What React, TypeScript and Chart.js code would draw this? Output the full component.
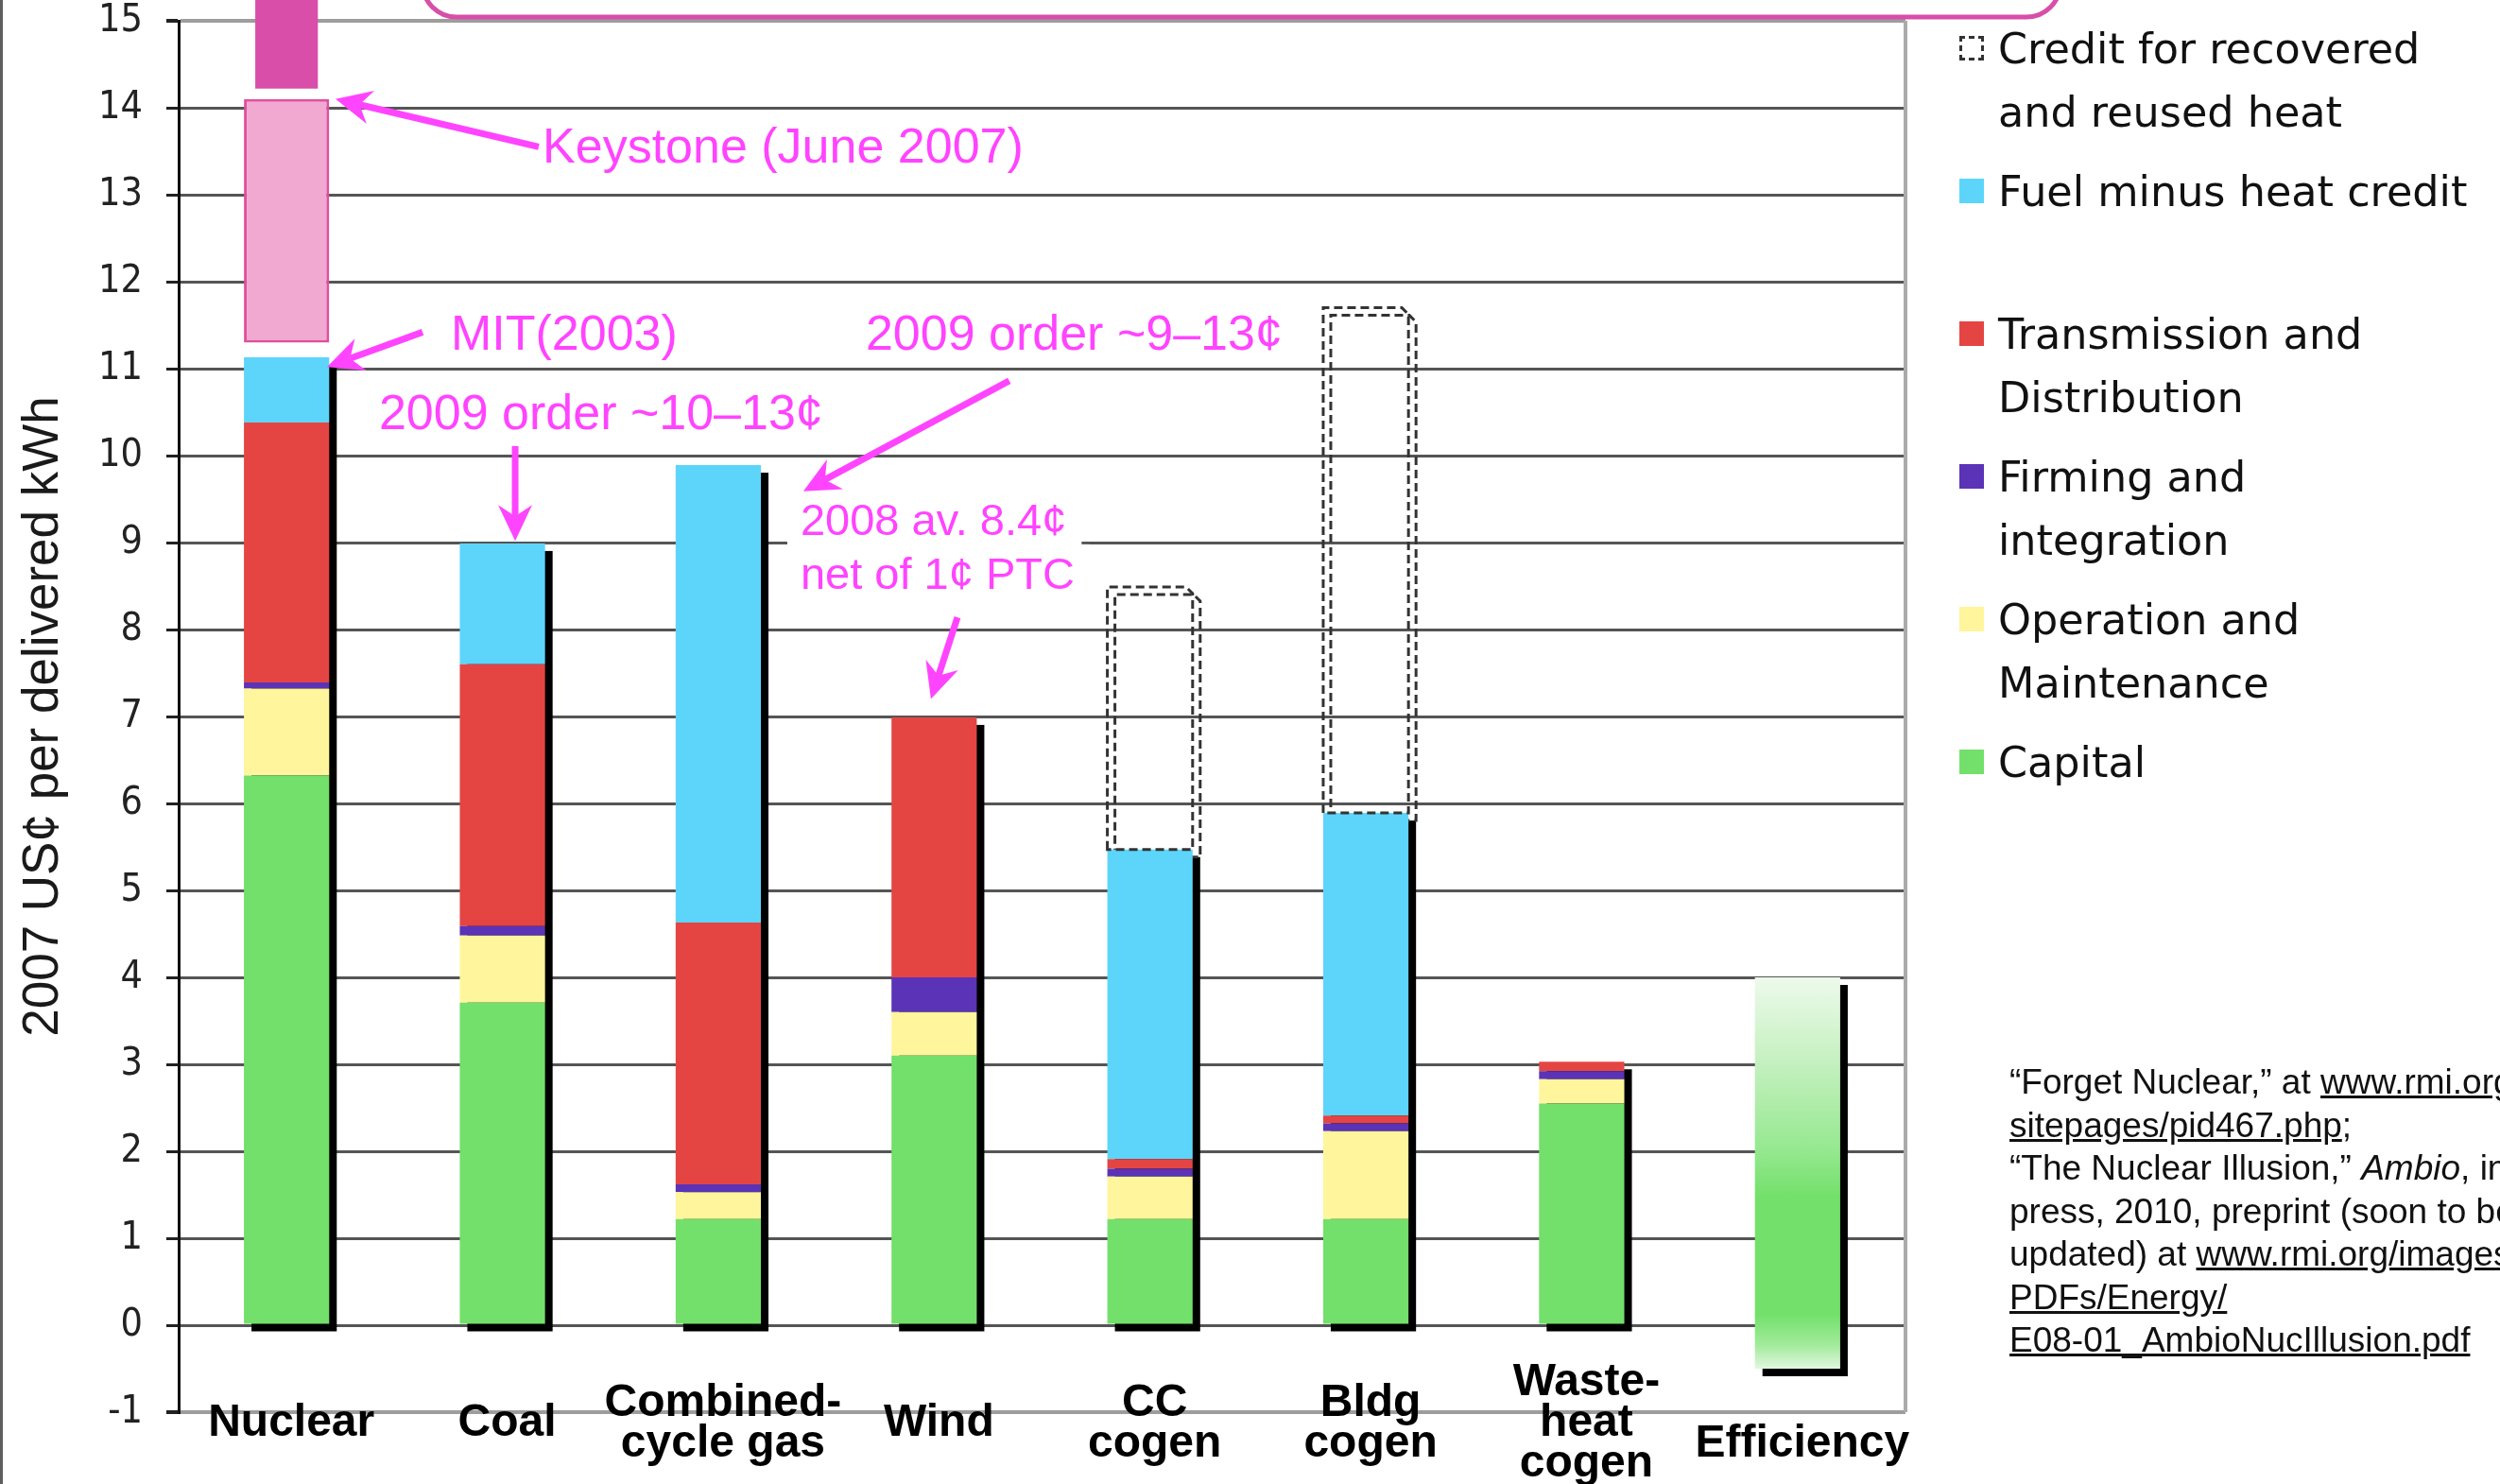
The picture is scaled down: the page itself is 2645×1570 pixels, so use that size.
import React, { useEffect, useRef } from "react";
import { Chart, registerables } from "chart.js";

Chart.register(...registerables);

// ---------- DATA ----------
const categories: string[][] = [
  ["Nuclear"],
  ["Coal"],
  ["Combined-", "cycle gas"],
  ["Wind"],
  ["CC", "cogen"],
  ["Bldg", "cogen"],
  ["Waste-", "heat", "cogen"],
  ["", "Efficiency"],
];

const capital = [6.32, 3.71, 1.22, 3.1, 1.22, 1.22, 2.55, null];
const operationMaintenance = [1.0, 0.77, 0.31, 0.5, 0.49, 1.01, 0.28, null];
const firmingIntegration = [0.07, 0.11, 0.09, 0.4, 0.09, 0.09, 0.09, null];
const transmissionDistribution = [2.99, 3.01, 3.01, 2.99, 0.11, 0.09, 0.11, null];
const fuelMinusHeatCredit = [0.75, 1.39, 5.26, null, 3.56, 3.48, null, null];
const heatCredit = [null, null, null, null, 3.02, 5.81, null, null];
const keystoneRange = [[11.3, 14.1], null, null, null, null, null, null, null];
const recentNuclearRange = [[14.22, 15.3], null, null, null, null, null, null, null];
const efficiencyRange = [null, null, null, null, null, null, null, [-0.5, 4.0]];

const yMin = -1;
const yMax = 15;
const yStep = 1;

const legendEntries = [
  { lines: ["Credit for recovered", "and reused heat"], key: "credit" },
  { lines: ["Fuel minus heat credit"], key: "fuel" },
  { lines: ["Transmission and", "Distribution"], key: "td" },
  { lines: ["Firming and", "integration"], key: "firm" },
  { lines: ["Operation and", "Maintenance"], key: "om" },
  { lines: ["Capital"], key: "capital" },
];

const annotationTexts = [
  { text: "Keystone (June 2007)", at: [1.186, 13.53], size: 52, backed: false },
  { text: "MIT(2003)", at: [0.761, 11.37], size: 52, backed: false },
  { text: "2009 order ~10–13¢", at: [0.428, 10.46], size: 52, backed: false },
  { text: "2009 order ~9–13¢", at: [2.683, 11.37], size: 52, backed: false },
  { text: "2008 av. 8.4¢", at: [2.381, 9.23], size: 47, backed: true },
  { text: "net of 1¢ PTC", at: [2.381, 8.61], size: 47, backed: true },
];

const annotationArrows = [
  { from: [1.168, 13.55], to: [0.227, 14.1] },
  { from: [0.63, 11.42], to: [0.187, 11.02] },
  { from: [1.059, 10.11], to: [1.059, 9.02] },
  { from: [3.348, 10.86], to: [2.394, 9.59] },
  { from: [3.108, 8.14], to: [2.985, 7.2] },
];

// ---------- STYLES ----------
const COLORS: Record<string, string> = {
  capital: "#72E06A",
  om: "#FFF59C",
  firm: "#5B33B6",
  td: "#E44543",
  fuel: "#5DD5FA",
  keystone: "#F1A9D1",
  keystoneBorder: "#E0509E",
  recent: "#D84EA9",
  annot: "#FF44FF",
};
const SHADOW_DX = 8;
const SHADOW_DY = 8;
const BAR_PCT = 0.395;

function chamferPath(ctx: CanvasRenderingContext2D, l: number, t: number, r: number, b: number, c: number) {
  ctx.beginPath();
  ctx.moveTo(l, b);
  ctx.lineTo(l, t);
  ctx.lineTo(r - c, t);
  ctx.lineTo(r, t + c);
  ctx.lineTo(r, b);
  ctx.closePath();
}

function elRect(el: any) {
  const p = el.getProps(["x", "y", "base", "width"], true);
  return {
    l: p.x - p.width / 2,
    r: p.x + p.width / 2,
    t: Math.min(p.y, p.base),
    b: Math.max(p.y, p.base),
  };
}

const shadowPlugin = {
  id: "barShadows",
  beforeDatasetsDraw(chart: any) {
    const ctx = chart.ctx as CanvasRenderingContext2D;
    const n = chart.data.labels.length;
    ctx.save();
    const ca = chart.chartArea;
    ctx.strokeStyle = "#ababab";
    ctx.lineWidth = 4;
    ctx.beginPath();
    ctx.moveTo(ca.right, ca.top);
    ctx.lineTo(ca.right, ca.bottom);
    ctx.stroke();

    for (let i = 0; i < n; i++) {
      let l = Infinity, r = -Infinity, t = Infinity, b = -Infinity;
      chart.data.datasets.forEach((ds: any, di: number) => {
        if (!ds.shadow || ds.data[i] == null) return;
        const el = chart.getDatasetMeta(di).data[i];
        if (!el) return;
        const q = elRect(el);
        l = Math.min(l, q.l); r = Math.max(r, q.r);
        t = Math.min(t, q.t); b = Math.max(b, q.b);
      });
      if (l < r) {
        ctx.fillStyle = "#000";
        ctx.fillRect(l + SHADOW_DX, t + SHADOW_DY, r - l, b - t);
      }
    }
    chart.data.datasets.forEach((ds: any, di: number) => {
      if (!ds.dashedCredit) return;
      chart.getDatasetMeta(di).data.forEach((el: any, i: number) => {
        if (ds.data[i] == null) return;
        const q = elRect(el);
        ctx.setLineDash([9, 5]);
        ctx.lineWidth = 3;
        ctx.strokeStyle = "#333";
        chamferPath(ctx, q.l + SHADOW_DX, q.t + SHADOW_DY, q.r + SHADOW_DX, q.b + SHADOW_DY, 7);
        ctx.stroke();
      });
    });
    ctx.restore();
  },
  afterDatasetsDraw(chart: any) {
    const ctx = chart.ctx as CanvasRenderingContext2D;
    ctx.save();
    chart.data.datasets.forEach((ds: any, di: number) => {
      if (!ds.dashedCredit) return;
      chart.getDatasetMeta(di).data.forEach((el: any, i: number) => {
        if (ds.data[i] == null) return;
        const q = elRect(el);
        ctx.setLineDash([9, 5]);
        ctx.lineWidth = 3;
        ctx.strokeStyle = "#333";
        chamferPath(ctx, q.l, q.t, q.r, q.b, 7);
        ctx.stroke();
      });
    });
    ctx.restore();
  },
};

const categoryLabelPlugin = {
  id: "categoryLabels",
  afterDraw(chart: any) {
    const ctx = chart.ctx as CanvasRenderingContext2D;
    const xs = chart.scales.x;
    const ca = chart.chartArea;
    const lh = 43;
    ctx.save();
    ctx.font = 'bold 48px "Liberation Sans", Arial, sans-serif';
    ctx.fillStyle = "#000";
    ctx.textAlign = "center";
    ctx.textBaseline = "middle";
    (chart.data.labels as any[]).forEach((lab, i) => {
      const lines: string[] = Array.isArray(lab) ? lab : [String(lab)];
      const cx = xs.getPixelForValue(i) + 5;
      const cy = ca.bottom + 12;
      lines.forEach((ln, j) => {
        ctx.fillText(ln, cx, cy + (j - (lines.length - 1) / 2) * lh);
      });
    });
    ctx.restore();
  },
};

function drawArrow(ctx: CanvasRenderingContext2D, x1: number, y1: number, x2: number, y2: number) {
  const ang = Math.atan2(y2 - y1, x2 - x1);
  const cos = Math.cos(ang), sin = Math.sin(ang);
  const headLen = 38, halfW = 18, notch = 26;
  const bx = x2 - notch * cos, by = y2 - notch * sin;
  ctx.lineWidth = 7;
  ctx.lineCap = "butt";
  ctx.beginPath();
  ctx.moveTo(x1, y1);
  ctx.lineTo(bx, by);
  ctx.stroke();
  const hx = x2 - headLen * cos, hy = y2 - headLen * sin;
  ctx.beginPath();
  ctx.moveTo(x2, y2);
  ctx.lineTo(hx - halfW * sin, hy + halfW * cos);
  ctx.lineTo(bx, by);
  ctx.lineTo(hx + halfW * sin, hy - halfW * cos);
  ctx.closePath();
  ctx.fill();
}

const annotationPlugin = {
  id: "annotations",
  afterDraw(chart: any) {
    const ctx = chart.ctx as CanvasRenderingContext2D;
    const xs = chart.scales.x, ys = chart.scales.y;
    const px = (v: number) => xs.getPixelForValue(v);
    const py = (v: number) => ys.getPixelForValue(v);
    ctx.save();
    ctx.strokeStyle = COLORS.recent;
    ctx.lineWidth = 5;
    const L = 447, R = 2180, B = 18, T = -120, rad = 36;
    ctx.beginPath();
    ctx.moveTo(L, T);
    ctx.lineTo(L, B - rad);
    ctx.arcTo(L, B, L + rad, B, rad);
    ctx.lineTo(R - rad, B);
    ctx.arcTo(R, B, R, B - rad, rad);
    ctx.lineTo(R, T);
    ctx.stroke();

    ctx.textAlign = "left";
    ctx.textBaseline = "middle";
    annotationTexts.forEach((a) => {
      if (!a.backed) return;
      ctx.font = `${a.size}px "Liberation Sans", Arial, sans-serif`;
      const w = ctx.measureText(a.text).width;
      ctx.fillStyle = "#fff";
      ctx.fillRect(px(a.at[0]) - 14, py(a.at[1]) - 34, w + 30, 68);
    });
    ctx.fillStyle = COLORS.annot;
    annotationTexts.forEach((a) => {
      ctx.font = `${a.size}px "Liberation Sans", Arial, sans-serif`;
      ctx.fillText(a.text, px(a.at[0]), py(a.at[1]));
    });
    ctx.strokeStyle = COLORS.annot;
    ctx.fillStyle = COLORS.annot;
    annotationArrows.forEach((a) => {
      drawArrow(ctx, px(a.from[0]), py(a.from[1]), px(a.to[0]), py(a.to[1]));
    });
    ctx.restore();
  },
};

function efficiencyGradient(c: any) {
  const raw = c.raw;
  const ys = c.chart.scales.y;
  if (!raw || !ys) return COLORS.capital;
  const top = ys.getPixelForValue(raw[1]);
  const bot = ys.getPixelForValue(raw[0]);
  if (!isFinite(top) || !isFinite(bot) || top === bot) return COLORS.capital;
  const g = c.chart.ctx.createLinearGradient(0, top, 0, bot);
  g.addColorStop(0, "#EDFAEB");
  g.addColorStop(0.22, "#C4F0BF");
  g.addColorStop(0.44, "#96E890");
  g.addColorStop(0.56, "#73E06B");
  g.addColorStop(0.86, "#72E06A");
  g.addColorStop(0.94, "#A2EB9C");
  g.addColorStop(1, "#E2F7DF");
  return g;
}

export default function App() {
  const canvasRef = useRef<HTMLCanvasElement | null>(null);

  useEffect(() => {
    document.body.style.margin = "0";
    const canvas = canvasRef.current;
    if (!canvas) return;
    const chart = new Chart(canvas, {
      type: "bar",
      data: {
        labels: categories as any,
        datasets: [
          { label: "Capital", data: capital, backgroundColor: COLORS.capital, shadow: true } as any,
          { label: "Operation and Maintenance", data: operationMaintenance, backgroundColor: COLORS.om, shadow: true } as any,
          { label: "Firming and integration", data: firmingIntegration, backgroundColor: COLORS.firm, shadow: true } as any,
          { label: "Transmission and Distribution", data: transmissionDistribution, backgroundColor: COLORS.td, shadow: true } as any,
          { label: "Fuel minus heat credit", data: fuelMinusHeatCredit, backgroundColor: COLORS.fuel, shadow: true } as any,
          { label: "Credit for recovered and reused heat", data: heatCredit, backgroundColor: "rgba(0,0,0,0)", borderWidth: 0, dashedCredit: true } as any,
          {
            label: "Keystone (June 2007)", data: keystoneRange as any, stack: "keystone",
            backgroundColor: COLORS.keystone, borderColor: COLORS.keystoneBorder, borderWidth: 3, borderSkipped: false,
          } as any,
          {
            label: "Recent estimate", data: recentNuclearRange as any, stack: "recent",
            backgroundColor: COLORS.recent, barPercentage: 0.29, clip: false,
          } as any,
          {
            label: "Efficiency", data: efficiencyRange as any, stack: "efficiency",
            backgroundColor: efficiencyGradient, shadow: true,
          } as any,
        ],
      },
      options: {
        animation: false,
        responsive: false,
        maintainAspectRatio: false,
        layout: { padding: { top: 22, right: 629, bottom: 0, left: 0 } },
        datasets: { bar: { grouped: false, categoryPercentage: 1, barPercentage: BAR_PCT } } as any,
        plugins: { legend: { display: false }, tooltip: { enabled: false } },
        scales: {
          x: {
            stacked: true,
            grid: { display: false, drawTicks: false },
            border: { display: false },
            ticks: { display: false },
            afterFit(s: any) {
              s.height = 76;
              s.paddingLeft = 0;
              s.paddingRight = 0;
            },
          } as any,
          y: {
            stacked: true,
            min: yMin,
            max: yMax,
            ticks: {
              stepSize: yStep,
              color: "#222",
              font: { family: '"DejaVu Sans Condensed", "Liberation Sans", Arial, sans-serif', size: 41 },
              padding: 25,
            },
            grid: {
              color: (c: any) => (c.tick && (c.tick.value === yMax || c.tick.value === yMin) ? "#9d9d9d" : "#555555"),
              lineWidth: (c: any) => (c.tick && (c.tick.value === yMax || c.tick.value === yMin) ? 4 : 3),
              tickLength: 13,
              tickColor: "#222",
            },
            border: { color: "#111", width: 3 },
            title: {
              display: true,
              text: "2007 US¢ per delivered kWh",
              color: "#1a1a1a",
              font: { family: '"Liberation Sans", Arial, sans-serif', size: 53 },
              padding: { top: 15, bottom: 0 },
            },
            afterFit(s: any) {
              s.width = 189;
              s.paddingTop = 0;
              s.paddingBottom = 0;
            },
          } as any,
        },
      },
      plugins: [shadowPlugin, categoryLabelPlugin, annotationPlugin],
    });
    return () => chart.destroy();
  }, []);

  const legendFont = '"DejaVu Sans", Verdana, sans-serif';
  return (
    <div style={{ position: "fixed", left: 0, top: 0, width: 2645, height: 1570, overflow: "hidden", background: "#fff" }}>
      <canvas ref={canvasRef} width={2645} height={1570} style={{ position: "absolute", left: 0, top: 0, width: 2645, height: 1570 }} />
      <div style={{ position: "absolute", left: 0, top: 0, width: 3, height: 1570, background: "#5e5e5e" }} />
      {legendEntries.map((e, k) => {
        const center = 51 + 151 * k;
        return (
          <div key={e.key} style={{ position: "absolute", left: 2073, top: center - 33.5, whiteSpace: "nowrap" }}>
            <div
              style={{
                position: "absolute", left: 0, top: 33.5 - 13, width: 26, height: 26, boxSizing: "border-box",
                background: e.key === "credit" ? "transparent" : COLORS[e.key],
                border: e.key === "credit" ? "3px dashed #333" : "none",
              }}
            />
            <div style={{ position: "absolute", left: 41, top: 0, fontFamily: legendFont, fontSize: 44.5, lineHeight: "67px", color: "#111" }}>
              {e.lines.map((ln, j) => (
                <div key={j}>{ln}</div>
              ))}
            </div>
          </div>
        );
      })}
      <div
        style={{
          position: "absolute", left: 2126, top: 1122, fontFamily: '"Liberation Sans", Arial, sans-serif',
          fontSize: 37, lineHeight: "45.5px", color: "#111", whiteSpace: "nowrap",
        }}
      >
        <div>“Forget Nuclear,” at <u>www.rmi.org/</u></div>
        <div><u>sitepages/pid467.php</u>;</div>
        <div>“The Nuclear Illusion,” <i>Ambio</i>, in</div>
        <div>press, 2010, preprint (soon to be</div>
        <div>updated) at <u>www.rmi.org/images/</u></div>
        <div><u>PDFs/Energy/</u></div>
        <div><u>E08-01_AmbioNucIllusion.pdf</u></div>
      </div>
    </div>
  );
}
